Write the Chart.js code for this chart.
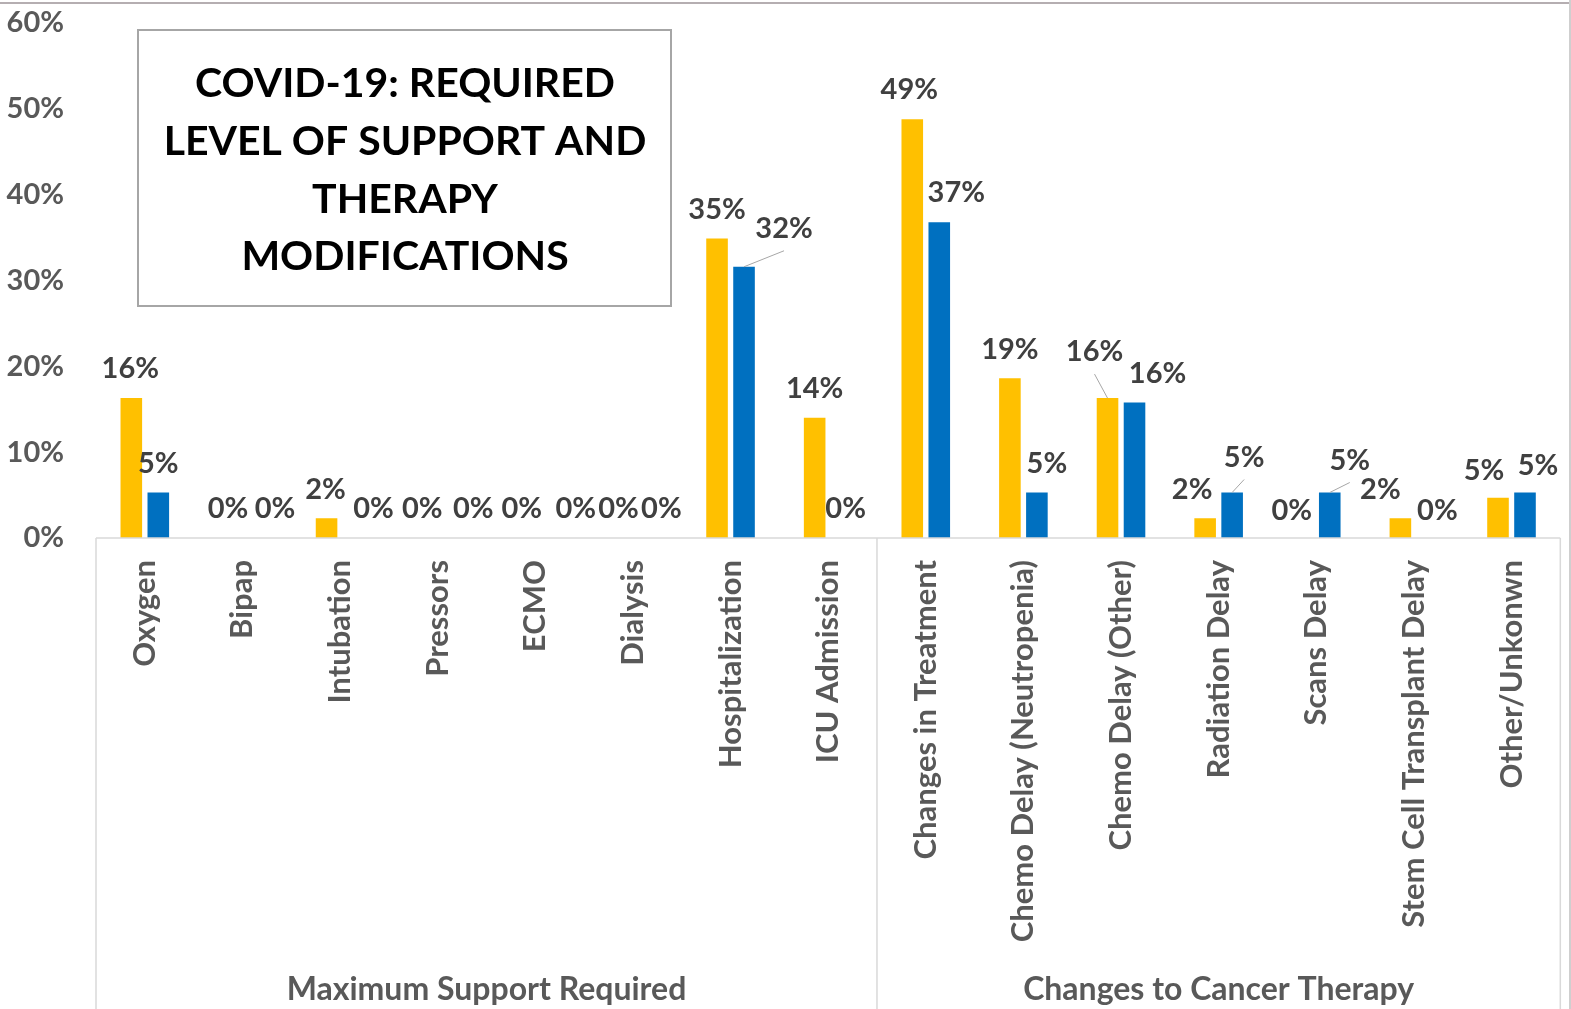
<!DOCTYPE html>
<html>
<head>
<meta charset="utf-8">
<script src="https://cdn.jsdelivr.net/npm/chart.js@4.4.1/dist/chart.umd.min.js"></script>
<style>
  html, body { margin: 0; padding: 0; background: #fff; }
  #wrap { width: 1571px; height: 1009px; }
</style>
</head>
<body>
<div id="wrap"><canvas id="covid_chart" width="1571" height="1009"></canvas></div>
<script>
const categories = [
  "Oxygen", "Bipap", "Intubation", "Pressors", "ECMO", "Dialysis",
  "Hospitalization", "ICU Admission", "Changes in Treatment",
  "Chemo Delay (Neutropenia)", "Chemo Delay (Other)", "Radiation Delay",
  "Scans Delay", "Stem Cell Transplant Delay", "Other/Unkonwn"
];
const groupNames = ["Maximum Support Required", "Changes to Cancer Therapy"];
const groupSizes = [8, 7];
const seriesYellow = [16.3, 0, 2.3, 0, 0, 0, 34.9, 14.0, 48.8, 18.6, 16.3, 2.3, 0, 2.3, 4.7];
const seriesBlue = [5.3, 0, 0, 0, 0, 0, 31.6, 0, 36.8, 5.3, 15.8, 5.3, 5.3, 0, 5.3];
const yMax = 60;
const yStep = 10;
const titleLines = ["COVID-19: REQUIRED", "LEVEL OF SUPPORT AND", "THERAPY", "MODIFICATIONS"];

// label nudges (Excel moved some labels by hand), [dx, dy] per bar
const labelShift = [
  [[-1,0],[-1,0],[-1,0],[-2,0],[0,0],[-1,0],[0,0],[0,0],[-3,0],[0,0],[-13,-17],[-13,0],[-11,2],[-20,0],[-14,2]],
  [[0,0],[19,0],[20,0],[22,0],[27,0],[15,0],[40,-9],[4,0],[17,0],[10,0],[23,0],[12,-6],[20,-3],[10,2],[13,2]]
];
const leaderLines = [[0, 10], [1, 6], [1, 11], [1, 12]];

const fontFamily = "Lato, 'DejaVu Sans', sans-serif";
const cxt = document.getElementById("covid_chart");

const decorPlugin = {
  id: "decor",
  afterDatasetsDraw(chart) {
    const ctx = chart.ctx;
    const area = chart.chartArea;
    const catW = (area.right - area.left) / categories.length;
    ctx.save();

    // frame
    ctx.fillStyle = "#b5aeb1";
    ctx.fillRect(0, 2, chart.width, 2);
    ctx.fillStyle = "#cfcfcf";
    ctx.fillRect(chart.width - 2, 0, 2, chart.height);

    // axis line and group dividers
    ctx.strokeStyle = "#d9d9d9";
    ctx.lineWidth = 1.5;
    ctx.beginPath();
    ctx.moveTo(area.left, area.bottom);
    ctx.lineTo(area.right, area.bottom);
    let idx = 0;
    const bounds = [0];
    groupSizes.forEach((n) => { idx += n; bounds.push(idx); });
    bounds.forEach((b) => {
      const x = area.left + b * catW;
      ctx.moveTo(x, area.bottom);
      ctx.lineTo(x, chart.height);
    });
    ctx.stroke();

    // group labels
    ctx.fillStyle = "#595959";
    ctx.font = `bold 32px ${fontFamily}`;
    ctx.textAlign = "center";
    ctx.textBaseline = "middle";
    groupNames.forEach((name, i) => {
      const x0 = area.left + bounds[i] * catW;
      const x1 = area.left + bounds[i + 1] * catW;
      ctx.fillText(name, (x0 + x1) / 2, 990);
    });

    // data labels
    ctx.fillStyle = "#404040";
    ctx.font = `bold 29px ${fontFamily}`;
    chart.data.datasets.forEach((ds, d) => {
      const meta = chart.getDatasetMeta(d);
      meta.data.forEach((bar, i) => {
        const [dx, dy] = labelShift[d][i];
        const x = bar.x + dx;
        const y = bar.y - 29 + dy;
        ctx.fillText(Math.round(ds.data[i]) + "%", x, y);
        if (leaderLines.some(([ld, li]) => ld === d && li === i)) {
          ctx.strokeStyle = "#a6a6a6";
          ctx.lineWidth = 1;
          ctx.beginPath();
          ctx.moveTo(bar.x, bar.y);
          ctx.lineTo(x, y + 22);
          ctx.stroke();
        }
      });
    });

    // title box
    ctx.fillStyle = "#ffffff";
    ctx.fillRect(138, 30, 533, 276);
    ctx.strokeStyle = "#a6a6a6";
    ctx.lineWidth = 2;
    ctx.strokeRect(138, 30, 533, 276);
    ctx.fillStyle = "#000000";
    ctx.font = `bold 41px ${fontFamily}`;
    titleLines.forEach((line, i) => {
      ctx.fillText(line, 405, 84 + i * 57.7);
    });
    ctx.restore();
  }
};

new Chart(cxt, {
  type: "bar",
  data: {
    labels: categories,
    datasets: [
      { label: "Yellow", data: seriesYellow, backgroundColor: "#FFC000" },
      { label: "Blue", data: seriesBlue, backgroundColor: "#0070C0" }
    ]
  },
  options: {
    responsive: false,
    animation: false,
    devicePixelRatio: 1,
    categoryPercentage: 0.553,
    barPercentage: 0.8,
    layout: { padding: { top: 0, right: 9, left: 0, bottom: 0 } },
    plugins: {
      legend: { display: false },
      tooltip: { enabled: false },
      title: { display: false }
    },
    scales: {
      x: {
        grid: { display: false, drawTicks: false },
        border: { display: false },
        ticks: {
          autoSkip: false,
          minRotation: 90,
          maxRotation: 90,
          padding: 22,
          color: "#595959",
          font: { family: fontFamily, size: 31, weight: "bold" }
        },
        afterFit: (scale) => { scale.height = 471; }
      },
      y: {
        min: 0,
        max: yMax,
        grid: { display: false, drawTicks: false },
        border: { display: false },
        ticks: {
          stepSize: yStep,
          padding: 32,
          color: "#595959",
          font: { family: fontFamily, size: 29, weight: "bold" },
          callback: (v) => v + "%"
        },
        afterFit: (scale) => {
          scale.width = 96;
          scale.paddingTop = 23;
        }
      }
    }
  },
  plugins: [decorPlugin]
});
</script>
</body>
</html>
